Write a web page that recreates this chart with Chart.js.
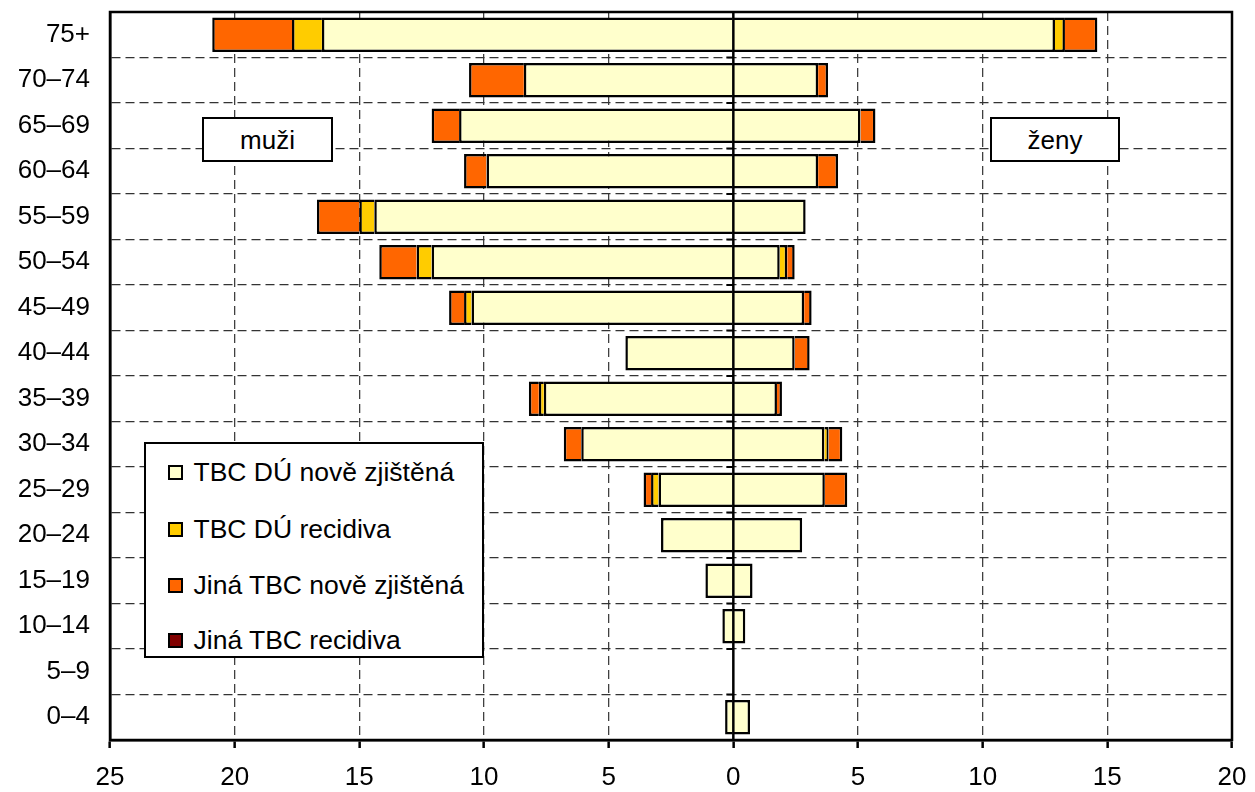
<!DOCTYPE html>
<html><head><meta charset="utf-8">
<script src="https://cdn.jsdelivr.net/npm/chart.js@4"></script>
<style>
html,body{margin:0;padding:0;background:#fff;}
#wrap{position:relative;width:1255px;height:792px;overflow:hidden;}
#c{position:absolute;left:0;top:0;}
.lbl{position:absolute;box-sizing:border-box;border:2.5px solid #000;background:#fff;font:26px "Liberation Sans",Arial,sans-serif;color:#000;display:flex;align-items:center;justify-content:center;line-height:1;}
#legend{position:absolute;left:144px;top:442px;width:340px;height:216px;box-sizing:border-box;border:2.5px solid #000;background:#fff;font:26.5px "Liberation Sans",Arial,sans-serif;color:#000;}
.item{position:absolute;left:21.5px;height:30px;display:flex;align-items:center;white-space:nowrap;}
.sw{width:15px;height:15px;border:2.5px solid #000;box-sizing:border-box;margin-right:11px;flex:none;}
</style></head>
<body>
<div id="wrap">
<canvas id="c" width="1255" height="792"></canvas>
<div class="lbl" style="left:202px;top:117px;width:131px;height:45px;">muži</div>
<div class="lbl" style="left:990px;top:117px;width:130px;height:45px;">ženy</div>
<div id="legend"></div>
</div>
<script>
// ---- data ----
const categories = ['75+','70–74','65–69','60–64','55–59','50–54','45–49','40–44','35–39','30–34','25–29','20–24','15–19','10–14','5–9','0–4'];
const seriesNames = ['TBC DÚ nově zjištěná','TBC DÚ recidiva','Jiná TBC nově zjištěná','Jiná TBC recidiva'];
const seriesColors = ['#FFFFCC','#FFCC00','#FF6600','#800000'];

// muži (left side)
const menDuNew   = [16.5, 8.4, 11.0, 9.9, 14.4, 12.1, 10.5, 4.33, 7.6, 6.1, 3.0, 2.9, 1.12, 0.44, 0, 0.33];
const menDuRec   = [1.2, 0, 0, 0, 0.6, 0.6, 0.3, 0, 0.2, 0, 0.3, 0, 0, 0, 0, 0];
const menOtherNew= [3.2, 2.2, 1.1, 0.9, 1.7, 1.5, 0.6, 0, 0.4, 0.7, 0.3, 0, 0, 0, 0, 0];
const menOtherRec= [0, 0, 0, 0, 0, 0, 0, 0, 0, 0, 0, 0, 0, 0, 0, 0];

// ženy (right side)
const womenDuNew   = [12.9, 3.4, 5.1, 3.4, 2.9, 1.86, 2.84, 2.46, 1.75, 3.65, 3.67, 2.76, 0.77, 0.48, 0, 0.67];
const womenDuRec   = [0.4, 0, 0, 0, 0, 0.3, 0, 0, 0, 0.17, 0, 0, 0, 0, 0, 0];
const womenOtherNew= [1.3, 0.4, 0.6, 0.8, 0, 0.3, 0.3, 0.6, 0.2, 0.55, 0.9, 0, 0, 0, 0, 0];
const womenOtherRec= [0, 0, 0, 0, 0, 0, 0, 0, 0, 0, 0, 0, 0, 0, 0, 0];

const xTickValues = [-25, -20, -15, -10, -5, 0, 5, 10, 15, 20];

// ---- build ----
const FONT = '"Liberation Sans", Arial, sans-serif';
const menSeries = [menDuNew, menDuRec, menOtherNew, menOtherRec];
const womenSeries = [womenDuNew, womenDuRec, womenOtherNew, womenOtherRec];
const datasets = [];
menSeries.forEach((arr, i) => datasets.push({
  label: seriesNames[i] + ' (muži)',
  data: arr.map(v => v ? -v : null),
  backgroundColor: seriesColors[i]
}));
womenSeries.forEach((arr, i) => datasets.push({
  label: seriesNames[i] + ' (ženy)',
  data: arr.map(v => v ? v : null),
  backgroundColor: seriesColors[i]
}));
datasets.forEach(d => {
  d.borderColor = '#000';
  d.borderWidth = 2.5;
  d.categoryPercentage = 0.76;
  d.barPercentage = 1;
  d.stack = 's';
});

// legend (HTML)
const leg = document.getElementById('legend');
const rowTops = [13, 70, 126, 181];
seriesNames.forEach((n, i) => {
  const it = document.createElement('div');
  it.className = 'item';
  it.style.top = rowTops[i] + 'px';
  const sw = document.createElement('span');
  sw.className = 'sw';
  sw.style.background = seriesColors[i];
  const tx = document.createElement('span');
  tx.textContent = n;
  it.appendChild(sw); it.appendChild(tx);
  leg.appendChild(it);
});

const framePlugin = {
  id: 'frame',
  afterDatasetsDraw(chart) {
    const {ctx, chartArea: a, scales: {x, y}} = chart;
    const x0 = x.getPixelForValue(0);
    const step = y.getPixelForValue(1) - y.getPixelForValue(0);
    ctx.save();
    ctx.strokeStyle = '#000';
    ctx.lineWidth = 2.5;
    ctx.beginPath();
    ctx.moveTo(x0, a.top);
    ctx.lineTo(x0, a.bottom);
    ctx.stroke();
    ctx.lineWidth = 2;
    for (let i = 1; i < categories.length; i++) {
      const yy = y.getPixelForValue(i) - step / 2;
      ctx.beginPath();
      ctx.moveTo(x0 - 7, yy);
      ctx.lineTo(x0, yy);
      ctx.stroke();
    }
    ctx.lineWidth = 2.5;
    ctx.strokeRect(a.left, a.top, a.right - a.left, a.bottom - a.top);
    ctx.restore();
  }
};

new Chart(document.getElementById('c'), {
  type: 'bar',
  data: { labels: categories, datasets },
  plugins: [framePlugin],
  options: {
    responsive: false,
    animation: false,
    indexAxis: 'y',
    layout: { padding: { top: 12, right: 23, left: 0, bottom: 0 } },
    plugins: { legend: { display: false }, tooltip: { enabled: false } },
    scales: {
      x: {
        type: 'linear', min: -25, max: 20, stacked: true,
        afterBuildTicks: s => { s.ticks = xTickValues.map(v => ({ value: v })); },
        afterFit: s => { s.height = 52; s.paddingLeft = 0; s.paddingRight = 0; },
        ticks: { callback: v => String(Math.abs(v)), font: { family: FONT, size: 26 }, color: '#000', padding: 14, maxRotation: 0, autoSkip: false },
        grid: {
          color: ctx => (ctx.tick && ctx.tick.value === 0) ? 'rgba(0,0,0,0)' : '#404040',
          lineWidth: 1.3, drawTicks: true, tickLength: 8, tickColor: '#000', tickWidth: 2.5, tickBorderDash: []
        },
        border: { display: true, color: '#000', width: 2.5, dash: [9, 5] }
      },
      y: {
        type: 'category', stacked: true,
        afterFit: s => { s.width = 110; s.paddingTop = 0; s.paddingBottom = 0; },
        ticks: { font: { family: FONT, size: 26 }, color: '#000', padding: 20, autoSkip: false },
        grid: { offset: true, color: '#333', lineWidth: 1.3, drawTicks: false },
        border: { display: true, color: '#000', width: 2.5, dash: [9, 5] }
      }
    }
  }
});
</script>
</body></html>
